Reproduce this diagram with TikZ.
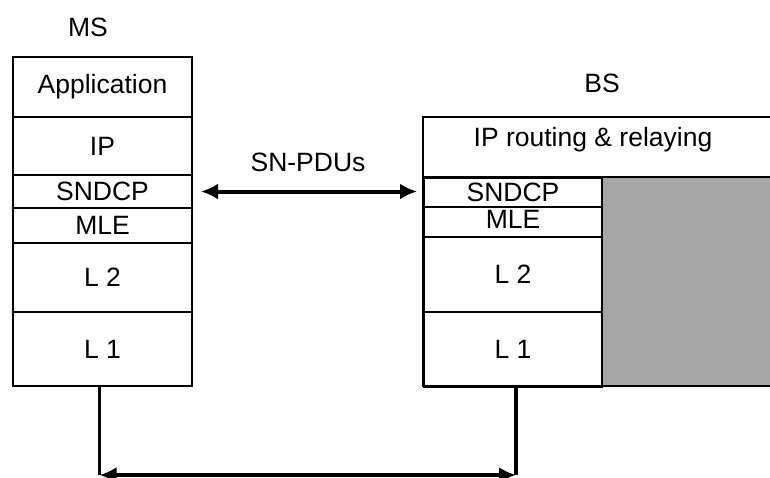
\documentclass[tikz,border=0pt]{standalone}
\usepackage{fontspec}
\setmainfont{Liberation Sans}
\usepackage{tikz}
\usepackage{xcolor}
\usetikzlibrary{positioning, arrows.meta}
\definecolor{relaygray}{HTML}{A6A6A6}
\newcommand{\layerfont}{\fontsize{26.5}{30}\selectfont}

\begin{document}
\begin{tikzpicture}[x=1pt, y=-1pt,
  layer/.style={draw, line width=2pt, inner sep=0pt, anchor=north west, font=\layerfont},
  mslayer/.style={layer, minimum width=179pt},
  bslayer/.style={layer, minimum width=178pt},
  link/.style={line width=3.5pt}]
\useasboundingbox (0,0) rectangle (770,477);

% MS stack
\node (msname) at (88,27) {\layerfont MS};
\node[mslayer, minimum height=60pt] (msapp) at (12,56) {Application};
\node[mslayer, minimum height=58pt] (msip) at (12,116) {IP};
\node[mslayer, minimum height=33pt] (mssndcp) at (12,174) {SNDCP};
\node[mslayer, minimum height=35pt] (msmle) at (12,207) {MLE};
\node[mslayer, minimum height=69pt] (msltwo) at (12,242) {L 2};
\node[mslayer, minimum height=74pt] (msl1) at (12,311) {L 1};

% BS stack
\node (bsname) at (602,83) {\layerfont BS};
\fill[relaygray] (601,177) rectangle (790,386);
\draw[line width=2pt] (790,117) -- (423,117) -- (423,386) -- (790,386);
\draw[line width=2pt] (423,177) -- (790,177);
\node[font=\layerfont] (bsip) at (593,140) {IP routing \& relaying};
\node[bslayer, minimum height=29pt] (bssndcp) at (423,177) {SNDCP};
\node[bslayer, minimum height=30pt] (bsmle) at (423,206) {\raisebox{6pt}{MLE}};
\node[bslayer, minimum height=75pt] (bsltwo) at (423,236) {L 2};
\node[bslayer, minimum height=75pt] (bsl1) at (423,311) {L 1};

% peer link
\draw[line width=4pt, {Latex[length=17pt,width=16pt]}-{Latex[length=17pt,width=16pt]}, shorten <=8pt, shorten >=6pt]
  (mssndcp.east) -- (mssndcp.east -| bssndcp.west)
  node[midway, above=14pt, font=\layerfont] (sdu) {SN-PDUs};

% physical link
\coordinate (msfoot) at ([xshift=-3pt]msl1.south |- 0,475);
\coordinate (bsfoot) at ([xshift=3pt]bsl1.south |- 0,475);
\draw[link] ([xshift=-3pt]msl1.south) -- (msfoot);
\draw[link] ([xshift=3pt]bsl1.south) -- (bsfoot);
\draw[link, {Latex[length=17pt,width=16pt]}-{Latex[length=17pt,width=16pt]}] (msfoot) -- (bsfoot);
\end{tikzpicture}
\end{document}
